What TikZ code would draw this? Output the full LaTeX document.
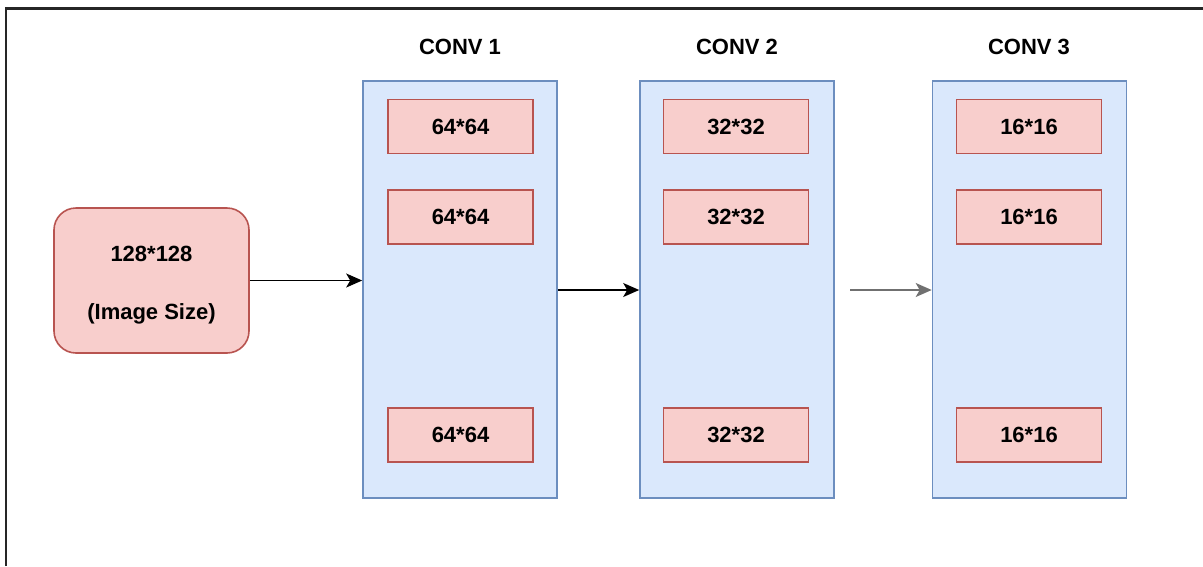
\documentclass[tikz,border=0pt]{standalone}
\usepackage{fontspec}
\setmainfont{Liberation Sans}
\usetikzlibrary{arrows.meta}
\definecolor{layerfill}{HTML}{DAE8FC}
\definecolor{layerline}{HTML}{6C8EBF}
\definecolor{mapfill}{HTML}{F8CECC}
\definecolor{mapline}{HTML}{B85450}
\definecolor{linkgrey}{HTML}{707070}
\tikzset{
  layer/.style={draw=layerline, fill=layerfill, line width=1.6pt, minimum width=194pt, minimum height=417pt, inner sep=0pt},
  fmap/.style={draw=mapline, fill=mapfill, line width=1.6pt, minimum width=145pt, minimum height=54pt, inner sep=0pt, font=\fontsize{22}{26}\selectfont\bfseries},
  title/.style={font=\fontsize{22}{26}\selectfont\bfseries},
  link/.style={line width=1.5pt, -{Stealth[length=16pt,width=14pt,inset=4pt]}},
}
\begin{document}
\begin{tikzpicture}[x=1pt, y=-1pt]
  \useasboundingbox (0,0) rectangle (1203,566);
  % partial frame: top and left edges
  \draw[line width=2.4pt, black!85] (6,566) -- (6,8.5) -- (1203,8.5);

  % input image
  \node[draw=mapline, fill=mapfill, line width=1.6pt, rounded corners=22pt,
        minimum width=195pt, minimum height=145pt, inner sep=0pt]
        (input) at (151.5,280.5) {};
  \node[align=center, font=\fontsize{22}{26}\selectfont\bfseries]
        (inputtext) at ([yshift=-5pt]input.center) {128*128\\[32pt](Image Size)};

  % convolution layers
  \node[layer] (c1) at (460,289.5) {};
  \node[layer] (c2) at (737,289.5) {};
  \node[layer] (c3) at (1029.5,289.5) {};

  \node[title] (t1) at (460,47) {CONV 1};
  \node[title] (t2) at (737,47) {CONV 2};
  \node[title] (t3) at (1029,47) {CONV 3};

  % feature maps
  \node[fmap] (a1) at (460.5,126.5) {64*64};
  \node[fmap] (a2) at (460.5,217) {64*64};
  \node[fmap] (a3) at (460.5,435) {64*64};
  \node[fmap] (b1) at (736,126.5) {32*32};
  \node[fmap] (b2) at (736,217) {32*32};
  \node[fmap] (b3) at (736,435) {32*32};
  \node[fmap] (d1) at (1029,126.5) {16*16};
  \node[fmap] (d2) at (1029,217) {16*16};
  \node[fmap] (d3) at (1029,435) {16*16};

  % connectors
  \draw[link] (input.east) -- (c1.west |- input.east);
  \draw[link] (c1.east |- 0,290) -- (c2.west |- 0,290);
  \coordinate (s3) at (850,290);
  \draw[link, draw=linkgrey] (s3) -- (c3.west |- s3);
\end{tikzpicture}
\end{document}
